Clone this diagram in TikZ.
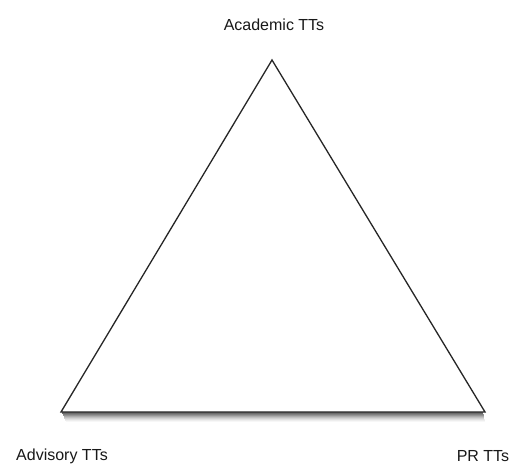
\documentclass[tikz,border=0pt]{standalone}
\usepackage{fontspec}
\setmainfont{Liberation Sans}
\usetikzlibrary{calc}
\begin{document}
\begin{tikzpicture}[x=1pt,y=-1pt,
  lbl/.style={font=\fontsize{16}{18}\selectfont, text=black!90, inner sep=0pt},
  edge/.style={draw=black!85, line width=1.3pt, line join=miter}]
\useasboundingbox[fill=white] (0,0) rectangle (513,466);
\coordinate (A) at (272,60);
\coordinate (L) at (61,412);
\coordinate (R) at (485,412);
% soft shadow beneath the base
\foreach \d/\c in {9/3,8/7,7/12,6/18,5/25,4/33,3/42,2/50,1/58} {
  \draw[black!\c, line width=1.02pt] ($(L)+(1+\d*0.4,\d)$) -- ($(R)+(-2+\d*0.2,\d)$);
}
\draw[edge] (A) -- (L) -- (R) -- cycle;
\node[lbl] (acad) at (274,25) {Academic TTs};
\node[lbl] (adv) at (62,456) {Advisory TTs};
\node[lbl] (pr) at (483,456) {PR TTs};
\end{tikzpicture}
\end{document}
